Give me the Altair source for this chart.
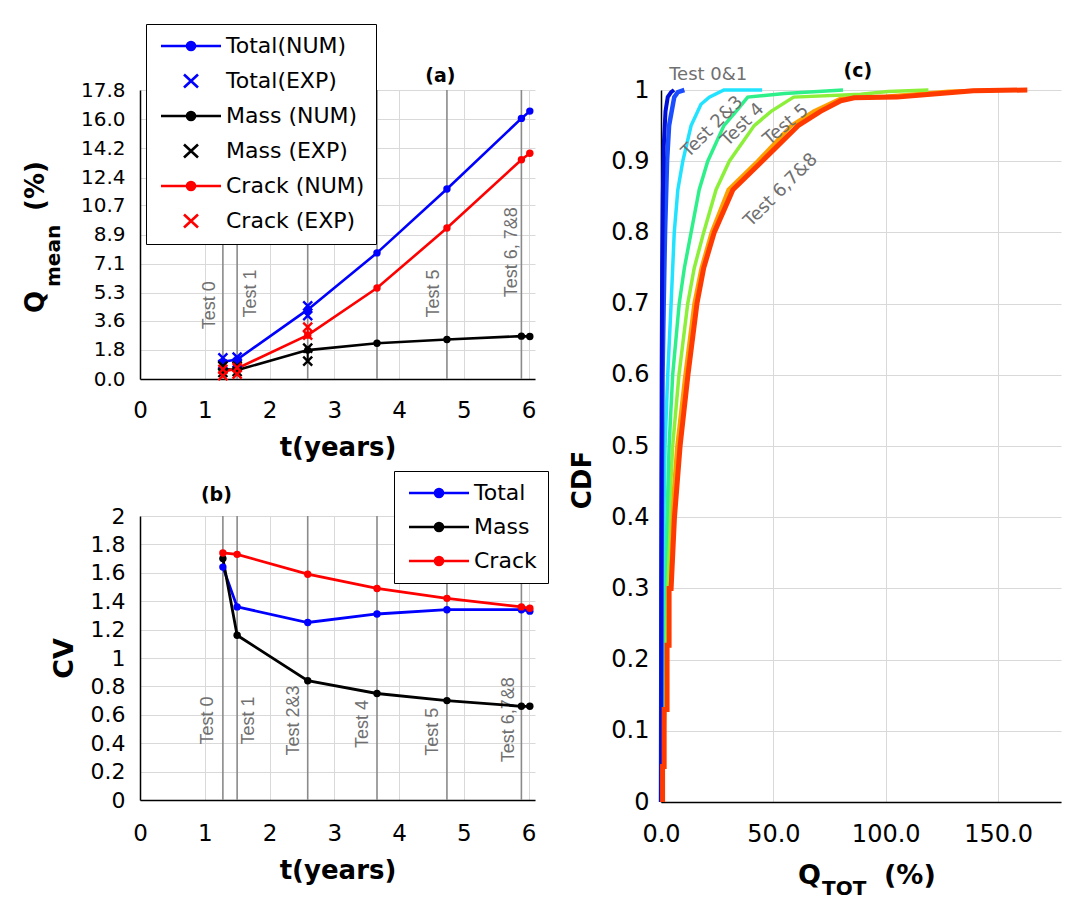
import altair as alt
import pandas as pd

FONT = "DejaVu Sans"
GRID = "#d9d9d9"
LABEL_GRAY = "#707070"
RULE_GRAY = "#8a8a8a"

# ---------------- panel (a) : mean Q vs time ----------------
t_num = [1.28, 1.50, 2.59, 3.66, 4.74, 5.89, 6.02]
q_total_num = [1.06, 1.20, 4.27, 7.77, 11.70, 16.05, 16.50]
q_mass_num = [0.62, 0.55, 1.78, 2.20, 2.43, 2.64, 2.62]
q_crack_num = [0.45, 0.65, 2.70, 5.60, 9.30, 13.50, 13.90]

t_exp = [1.28, 1.50, 2.59]
q_total_exp_lo = [0.90, 1.00, 3.90]
q_total_exp_hi = [1.30, 1.35, 4.50]
q_mass_exp_lo = [0.40, 0.45, 1.10]
q_mass_exp_hi = [0.80, 0.80, 1.90]
q_crack_exp_lo = [0.20, 0.30, 2.70]
q_crack_exp_hi = [0.60, 0.70, 3.20]

test_times = [1.28, 1.50, 2.59, 3.66, 4.74, 5.89]

a_label_text = ["Test 0", "Test 1", "Test 5", "Test 6, 7&8"]
a_label_t = [1.085, 1.71, 4.54, 5.74]
a_label_q = [4.54, 5.26, 5.26, 7.81]
a_yticks = [0.0, 1.8, 3.6, 5.3, 7.1, 8.9, 10.7, 12.4, 14.2, 16.0, 17.8]

A_SERIES = ["Total(NUM)", "Total(EXP)", "Mass (NUM)", "Mass (EXP)", "Crack (NUM)", "Crack (EXP)"]
A_COLORS = ["#0000ff", "#0000ff", "#000000", "#000000", "#ff0000", "#ff0000"]

# ---------------- panel (b) : CV vs time ----------------
cv_total = [1.64, 1.36, 1.25, 1.31, 1.34, 1.34, 1.33]
cv_mass = [1.70, 1.16, 0.84, 0.75, 0.70, 0.66, 0.66]
cv_crack = [1.74, 1.73, 1.59, 1.49, 1.42, 1.36, 1.35]

b_label_text = ["Test 0", "Test 1", "Test 2&3", "Test 4", "Test 5", "Test 6,7&8"]
b_label_t = [1.05, 1.68, 2.38, 3.44, 4.52, 5.70]
b_label_cv = [0.56, 0.56, 0.56, 0.535, 0.48, 0.565]
b_yticks = [0, 0.2, 0.4, 0.6, 0.8, 1, 1.2, 1.4, 1.6, 1.8, 2]

B_SERIES = ["Total", "Mass", "Crack"]
B_COLORS = ["#0000ff", "#000000", "#ff0000"]

# ---------------- panel (c) : CDF of Q_TOT ----------------
q_test0 = [0.0, 0.1, 0.2, 0.3, 0.5, 0.8, 1.2, 2.0, 3.0, 4.5, 5.8]
p_test0 = [0.0, 0.25, 0.45, 0.6, 0.75, 0.85, 0.92, 0.97, 0.99, 0.997, 1.0]
q_test1 = [0.0, 0.2, 0.5, 0.7, 1.2, 1.8, 2.7, 3.6, 5.9, 7.5, 10.4]
p_test1 = [0.0, 0.3, 0.5, 0.6, 0.7, 0.8, 0.9, 0.95, 0.99, 0.997, 1.0]
q_test23 = [0.0, 0.3, 0.8, 1.3, 1.8, 3.0, 4.5, 5.9, 7.5, 9.7, 13.4, 17.8, 21.5, 28.0, 45.0]
p_test23 = [0.0, 0.15, 0.3, 0.4, 0.5, 0.6, 0.7, 0.8, 0.86, 0.9, 0.95, 0.98, 0.99, 1.0, 1.0]
q_test4 = [0.0, 0.5, 1.5, 2.7, 3.6, 5.2, 8.1, 10.4, 13.4, 17.0, 20.8, 28.0, 33.4, 38.6, 55.0, 81.0]
p_test4 = [0.0, 0.15, 0.3, 0.4, 0.5, 0.6, 0.7, 0.75, 0.8, 0.86, 0.9, 0.95, 0.97, 0.99, 0.995, 1.0]
q_test5 = [0.0, 0.8, 2.7, 3.6, 5.2, 8.0, 11.9, 14.8, 19.0, 24.5, 30.4, 41.5, 49.0, 59.0, 89.0, 101.0, 119.0]
p_test5 = [0.0, 0.1, 0.3, 0.4, 0.5, 0.6, 0.7, 0.75, 0.8, 0.86, 0.9, 0.95, 0.97, 0.99, 0.994, 0.998, 1.0]
q_test67 = [0.3, 1.3, 3.0, 4.8, 7.2, 10.8, 14.8, 18.0, 22.5, 30.0, 43.0, 58.0, 68.0, 80.0, 100.0, 128.0, 150.0]
p_test67 = [0.0, 0.1, 0.3, 0.4, 0.5, 0.6, 0.7, 0.75, 0.8, 0.86, 0.9, 0.95, 0.97, 0.988, 0.991, 0.998, 1.0]
q_test8 = [0.7, 0.7, 1.4, 1.4, 2.7, 2.7, 3.6, 3.6, 4.5, 6.0, 8.5, 12.0, 16.0, 19.0, 23.7, 32.0,
           45.0, 61.0, 71.0, 80.0, 86.0, 105.0, 120.0, 139.0, 163.0]
p_test8 = [0.0, 0.05, 0.05, 0.13, 0.13, 0.22, 0.22, 0.30, 0.30, 0.4, 0.5, 0.6, 0.7, 0.75, 0.8, 0.86,
           0.9, 0.95, 0.97, 0.985, 0.989, 0.99, 0.994, 0.999, 1.0]

C_CURVES = [  # name, q, p, color, width (drawn in this order)
    ("Test 6,7", q_test67, p_test67, "#ffa000", 4),
    ("Test 5", q_test5, p_test5, "#8cf03a", 3.5),
    ("Test 4", q_test4, p_test4, "#2ef08a", 3.5),
    ("Test 2&3", q_test23, p_test23, "#22e3ff", 3.5),
    ("Test 1", q_test1, p_test1, "#1a4dff", 4.5),
    ("Test 0", q_test0, p_test0, "#0010d8", 4),
    ("Test 8", q_test8, p_test8, "#ff3a00", 5),
]

c_label_text = ["Test 0&1", "Test 2&3", "Test 4", "Test 5", "Test 6,7&8"]
c_label_q = [21.0, 23.0, 36.4, 55.7, 53.4]
c_label_p = [1.021, 0.948, 0.951, 0.951, 0.859]
c_label_angle = [0, 315, 315, 320, 315]
c_xticks = [0, 50, 100, 150]
c_yticks = [0, 0.1, 0.2, 0.3, 0.4, 0.5, 0.6, 0.7, 0.8, 0.9, 1]

# legend symbols (paths in symbol units)
NUM_SYM = ("M-6,0L6,0"
           "M-0.8,0A0.8,0.8,0,1,0,0.8,0A0.8,0.8,0,1,0,-0.8,0"
           "M-0.4,0A0.4,0.4,0,1,0,0.4,0A0.4,0.4,0,1,0,-0.4,0")
EXP_SYM = "M-1.4,-1.3L1.4,1.3M-1.4,1.3L1.4,-1.3"
X_MARK = "M-1,-1L1,1M-1,1L1,-1"


def axis(**kw):
    base = dict(labelFont=FONT, labelColor="black", titleFont=FONT, titleColor="black",
                titleFontWeight="bold", grid=True, gridColor=GRID, gridWidth=1,
                domainColor="black", domainWidth=1.5, ticks=False, labelFlush=False,
                labelOverlap=False)
    base.update(kw)
    return alt.Axis(**base)


def legend(x, y):
    return alt.Legend(title=None, orient="none", legendX=x, legendY=y, direction="vertical",
                      padding=11, rowPadding=12, symbolSize=100, symbolStrokeWidth=2.6,
                      symbolOffset=23, labelOffset=24, labelFont=FONT, labelFontSize=22,
                      labelColor="black", labelLimit=0, strokeColor="black",
                      fillColor="white", symbolOpacity=1, cornerRadius=0)


col_a = dict(zip(A_SERIES, A_COLORS))
col_b = dict(zip(B_SERIES, B_COLORS))

# ================= panel (a) =================
n = len(t_num)
num_a = pd.DataFrame({
    "t": t_num * 3,
    "q": q_total_num + q_mass_num + q_crack_num,
    "series_a": ["Total(NUM)"] * n + ["Mass (NUM)"] * n + ["Crack (NUM)"] * n,
})
num_a["col"] = num_a["series_a"].map(col_a)
m = len(t_exp)
exp_a = pd.DataFrame({
    "t": t_exp * 3,
    "lo": q_total_exp_lo + q_mass_exp_lo + q_crack_exp_lo,
    "hi": q_total_exp_hi + q_mass_exp_hi + q_crack_exp_hi,
    "series_a": ["Total(EXP)"] * m + ["Mass (EXP)"] * m + ["Crack (EXP)"] * m,
})
exp_a["col"] = exp_a["series_a"].map(col_a)
exp_pts = pd.concat([
    exp_a[["t", "series_a", "col"]].assign(q=exp_a["lo"]),
    exp_a[["t", "series_a", "col"]].assign(q=exp_a["hi"]),
])
tests_df = pd.DataFrame({"t": test_times})
a_labels = pd.DataFrame({"t": a_label_t, "q": a_label_q, "txt": a_label_text})

ax_a_x = axis(values=[0, 1, 2, 3, 4, 5, 6], format="d", labelFontSize=23,
              labelPadding=20, title="t(years)", titleFontSize=26, titlePadding=12)
ax_a_y = axis(values=a_yticks, format=".1f", labelFontSize=20, labelPadding=15, title=None)
sc_a_y = alt.Scale(domain=[0, 17.8], nice=False)
xa = alt.X("t:Q", scale=alt.Scale(domain=[0, 6.1], nice=False, zero=False), axis=ax_a_x)
ya = alt.Y("q:Q", scale=sc_a_y, axis=ax_a_y)
stroke_raw = alt.Stroke("col:N", scale=None)
fill_raw = alt.Fill("col:N", scale=None)

a_rules = alt.Chart(tests_df).mark_rule(color=RULE_GRAY, strokeWidth=1.6).encode(x=xa)
a_text = alt.Chart(a_labels).mark_text(angle=270, font="Liberation Sans", fontSize=18,
                                       color=LABEL_GRAY).encode(x=xa, y=ya, text="txt:N")
a_err = alt.Chart(exp_a).mark_rule(strokeWidth=2).encode(
    x=xa, y=alt.Y("lo:Q", scale=sc_a_y, axis=ax_a_y), y2="hi:Q", stroke=stroke_raw)
a_line = alt.Chart(num_a).mark_line(strokeWidth=2.6).encode(
    x=xa, y=ya, stroke=stroke_raw, detail="series_a:N")
a_dots = alt.Chart(num_a).mark_circle(size=55, opacity=1).encode(x=xa, y=ya, fill=fill_raw)
a_x = alt.Chart(exp_pts).mark_point(shape=X_MARK, filled=False, size=80, strokeWidth=2.4,
                                    opacity=1).encode(x=xa, y=ya, stroke=stroke_raw)
a_leg = alt.Chart(num_a).transform_filter("false").mark_point(
    filled=False, opacity=1, strokeWidth=2.6).encode(
    x=xa, y=ya,
    color=alt.Color("series_a:N", scale=alt.Scale(domain=A_SERIES, range=A_COLORS),
                    legend=legend(6, -66)),
    shape=alt.Shape("series_a:N",
                    scale=alt.Scale(domain=A_SERIES,
                                    range=[NUM_SYM, EXP_SYM, NUM_SYM, EXP_SYM, NUM_SYM, EXP_SYM]),
                    legend=legend(6, -66)))
a_tag = alt.Chart(pd.DataFrame({"t": [4.64], "q": [18.65], "s": ["(a)"]})).mark_text(
    font=FONT, fontSize=19, fontWeight="bold", color="black").encode(x=xa, y=ya, text="s:N")
a_title_main = alt.Chart(pd.DataFrame({"s": ["Q", "(%)"], "py": [223, 121]})).mark_text(
    angle=270, align="left", baseline="middle", font=FONT, fontSize=26, fontWeight="bold",
    color="black").encode(x=alt.value(-104), y=alt.Y("py:Q", scale=None), text="s:N")
a_title_sub = alt.Chart(pd.DataFrame({"s": ["mean"]})).mark_text(
    angle=270, align="left", baseline="middle", font=FONT, fontSize=20, fontWeight="bold",
    color="black").encode(x=alt.value(-86), y=alt.value(197), text="s:N")

chart_a = alt.layer(a_rules, a_text, a_err, a_line, a_dots, a_x, a_leg, a_tag,
                    a_title_main, a_title_sub).properties(width=395, height=289)

# ================= panel (b) =================
cv_df = pd.DataFrame({
    "t": t_num * 3,
    "cv": cv_total + cv_mass + cv_crack,
    "series_b": ["Total"] * n + ["Mass"] * n + ["Crack"] * n,
})
cv_df["col"] = cv_df["series_b"].map(col_b)
b_labels = pd.DataFrame({"t": b_label_t, "cv": b_label_cv, "txt": b_label_text})

xb = alt.X("t:Q", scale=alt.Scale(domain=[0, 6.1], nice=False, zero=False),
           axis=axis(values=[0, 1, 2, 3, 4, 5, 6], format="d", labelFontSize=23,
                     labelPadding=22, title="t(years)", titleFontSize=26, titlePadding=12))
yb = alt.Y("cv:Q", scale=alt.Scale(domain=[0, 2], nice=False),
           axis=axis(values=b_yticks, format="~g", labelFontSize=22, labelPadding=15,
                     title="CV", titleFontSize=27, titlePadding=12))

b_rules = alt.Chart(tests_df).mark_rule(color=RULE_GRAY, strokeWidth=1.6).encode(x=xb)
b_text = alt.Chart(b_labels).mark_text(angle=270, font="Liberation Sans", fontSize=18,
                                       color=LABEL_GRAY).encode(x=xb, y=yb, text="txt:N")
b_line = alt.Chart(cv_df).mark_line(strokeWidth=2.8).encode(
    x=xb, y=yb, stroke=stroke_raw, detail="series_b:N")
b_dots = alt.Chart(cv_df).mark_circle(size=55, opacity=1).encode(x=xb, y=yb, fill=fill_raw)
b_leg = alt.Chart(cv_df).transform_filter("false").mark_point(
    filled=False, opacity=1, strokeWidth=2.6).encode(
    x=xb, y=yb,
    color=alt.Color("series_b:N", scale=alt.Scale(domain=B_SERIES, range=B_COLORS),
                    legend=legend(254, -45)),
    shape=alt.Shape("series_b:N", scale=alt.Scale(domain=B_SERIES, range=[NUM_SYM] * 3),
                    legend=legend(254, -45)))
b_tag = alt.Chart(pd.DataFrame({"t": [1.18], "cv": [2.15], "s": ["(b)"]})).mark_text(
    font=FONT, fontSize=19, fontWeight="bold", color="black").encode(x=xb, y=yb, text="s:N")

chart_b = alt.layer(b_rules, b_text, b_line, b_dots, b_leg, b_tag).properties(width=395, height=284)

# ================= panel (c) =================
xc = alt.X("q:Q", scale=alt.Scale(domain=[0, 178], nice=False, zero=False),
           axis=axis(values=c_xticks, format=".1f", labelFontSize=24, labelPadding=20,
                     title=None))
yc = alt.Y("p:Q", scale=alt.Scale(domain=[0, 1], nice=False),
           axis=axis(values=c_yticks, format="~g", labelFontSize=24, labelPadding=12,
                     title=None))

c_layers = []
for name, qs, ps, col, w in C_CURVES:
    df = pd.DataFrame({"q": qs, "p": ps, "i": list(range(len(qs)))})
    c_layers.append(alt.Chart(df).mark_line(color=col, strokeWidth=w).encode(
        x=xc, y=yc, order="i:Q"))

c_labels = pd.DataFrame({"q": c_label_q, "p": c_label_p, "txt": c_label_text,
                         "ang": c_label_angle})
c_text = alt.Chart(c_labels).mark_text(font=FONT, fontSize=18, color=LABEL_GRAY).encode(
    x=xc, y=yc, text="txt:N", angle=alt.Angle("ang:Q", scale=None))
c_tag = alt.Chart(pd.DataFrame({"q": [87.6], "p": [1.026], "s": ["(c)"]})).mark_text(
    font=FONT, fontSize=19, fontWeight="bold", color="black").encode(x=xc, y=yc, text="s:N")
c_title_main = alt.Chart(pd.DataFrame({"s": ["Q", "(%)"], "px": [137, 223]})).mark_text(
    align="left", baseline="middle", font=FONT, fontSize=27, fontWeight="bold",
    color="black").encode(x=alt.X("px:Q", scale=None), y=alt.value(786), text="s:N")
c_title_sub = alt.Chart(pd.DataFrame({"s": ["TOT"]})).mark_text(
    align="left", baseline="middle", font=FONT, fontSize=20, fontWeight="bold",
    color="black").encode(x=alt.value(161), y=alt.value(799), text="s:N")
c_title_y = alt.Chart(pd.DataFrame({"s": ["CDF"]})).mark_text(
    angle=270, align="center", baseline="middle", font=FONT, fontSize=26, fontWeight="bold",
    color="black").encode(x=alt.value(-78), y=alt.value(390), text="s:N")

chart_c = alt.layer(*c_layers, c_text, c_tag, c_title_main, c_title_sub, c_title_y).properties(
    width=400, height=712)

left = alt.vconcat(chart_a, chart_b, spacing=10).resolve_scale(
    color="independent", shape="independent")
chart = alt.hconcat(left, chart_c, spacing=21).resolve_scale(
    color="independent", shape="independent"
).properties(
    padding={"left": 15, "top": 15, "right": 5, "bottom": 5}
).configure_view(stroke=None)

chart.save("out.html", embed_options={"renderer": "svg", "actions": False})
